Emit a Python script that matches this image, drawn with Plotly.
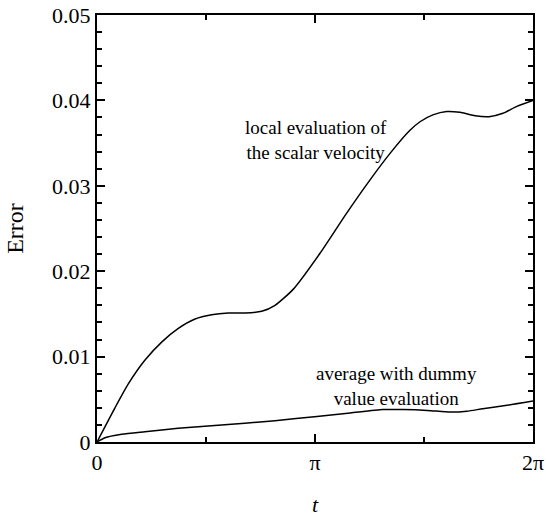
import math
import plotly.graph_objects as go

PI = math.pi

# Local evaluation of the scalar velocity
t_local = [0.0, 0.259, 0.451, 0.692, 0.932, 1.172, 1.413, 1.653, 1.893, 2.133, 2.374,
           2.565, 2.83, 3.214, 3.598, 3.935, 4.223, 4.51, 4.655, 4.84, 5.04,
           5.23, 5.45, 5.65, 5.85, 6.05, 6.283]
err_local = [0.0, 0.0040, 0.0068, 0.0096, 0.0117, 0.0133, 0.0144, 0.0149, 0.0151, 0.0151, 0.0153,
             0.0160, 0.0179, 0.0221, 0.0268, 0.0307, 0.0338, 0.0365, 0.0375, 0.0383, 0.0387,
             0.0386, 0.0382, 0.0381, 0.0385, 0.0393, 0.0400]

# Average with dummy value evaluation
t_avg = [0.0, 0.115, 0.356, 0.69, 1.17, 1.65, 2.13, 2.565, 3.17, 3.65, 4.12,
         4.41, 4.76, 5.09, 5.33, 5.56, 5.91, 6.283]
err_avg = [0.0, 0.0005, 0.0009, 0.0012, 0.0016, 0.0019, 0.0022, 0.0025, 0.0030, 0.0034, 0.0038,
           0.0038, 0.0037, 0.0035, 0.0036, 0.0039, 0.0043, 0.0048]

x_tickvals = [0, PI, 2 * PI]
x_ticktext = ["0", "π", "2π"]
x_minor = [PI / 2, 3 * PI / 2]
y_tickvals = [0, 0.01, 0.02, 0.03, 0.04, 0.05]
y_ticktext = ["0", "0.01", "0.02", "0.03", "0.04", "0.05"]

FONT = "Liberation Serif"

fig = go.Figure()
fig.add_trace(go.Scatter(x=t_local, y=err_local, mode="lines",
                         line=dict(color="black", width=1.5, shape="spline", smoothing=0.6),
                         showlegend=False, hoverinfo="skip"))
fig.add_trace(go.Scatter(x=t_avg, y=err_avg, mode="lines",
                         line=dict(color="black", width=1.5, shape="spline", smoothing=0.6),
                         showlegend=False, hoverinfo="skip"))

fig.add_annotation(x=3.15, y=0.0354, xref="x", yref="y", showarrow=False,
                   text="local evaluation of<br>the scalar velocity",
                   font=dict(family=FONT, size=19, color="black"), align="center")
fig.add_annotation(x=4.31, y=0.0066, xref="x", yref="y", showarrow=False,
                   text="average with dummy<br>value evaluation",
                   font=dict(family=FONT, size=19, color="black"), align="center")

fig.update_layout(
    width=548, height=517,
    margin=dict(l=97, r=15, t=15, b=75, autoexpand=False),
    paper_bgcolor="white", plot_bgcolor="white",
    font=dict(family=FONT, size=22, color="black"),
)
fig.update_xaxes(
    range=[0, 2 * PI], tickvals=x_tickvals, ticktext=x_ticktext,
    ticks="inside", ticklen=8, tickwidth=1.5, tickcolor="black",
    minor=dict(tickvals=x_minor, ticks="inside", ticklen=5, tickwidth=1.5, tickcolor="black"),
    showline=True, linewidth=2, linecolor="black", mirror="allticks",
    showgrid=False, zeroline=False, automargin=False,
    tickfont=dict(family=FONT, size=22, color="black"),
    title=dict(text="<i>t</i>", font=dict(family=FONT, size=22, color="black"), standoff=22),
)
fig.update_yaxes(
    range=[0, 0.05], tickvals=y_tickvals, ticktext=y_ticktext,
    ticks="inside", ticklen=8, tickwidth=1.5, tickcolor="black",
    minor=dict(dtick=0.002, tick0=0, ticks="inside", ticklen=5, tickwidth=1.5, tickcolor="black"),
    showline=True, linewidth=2, linecolor="black", mirror="allticks",
    showgrid=False, zeroline=False, automargin=False,
    tickfont=dict(family=FONT, size=22, color="black"),
    title=dict(text="Error", font=dict(family=FONT, size=24, color="black"), standoff=22),
)

fig.write_html("out.html")
